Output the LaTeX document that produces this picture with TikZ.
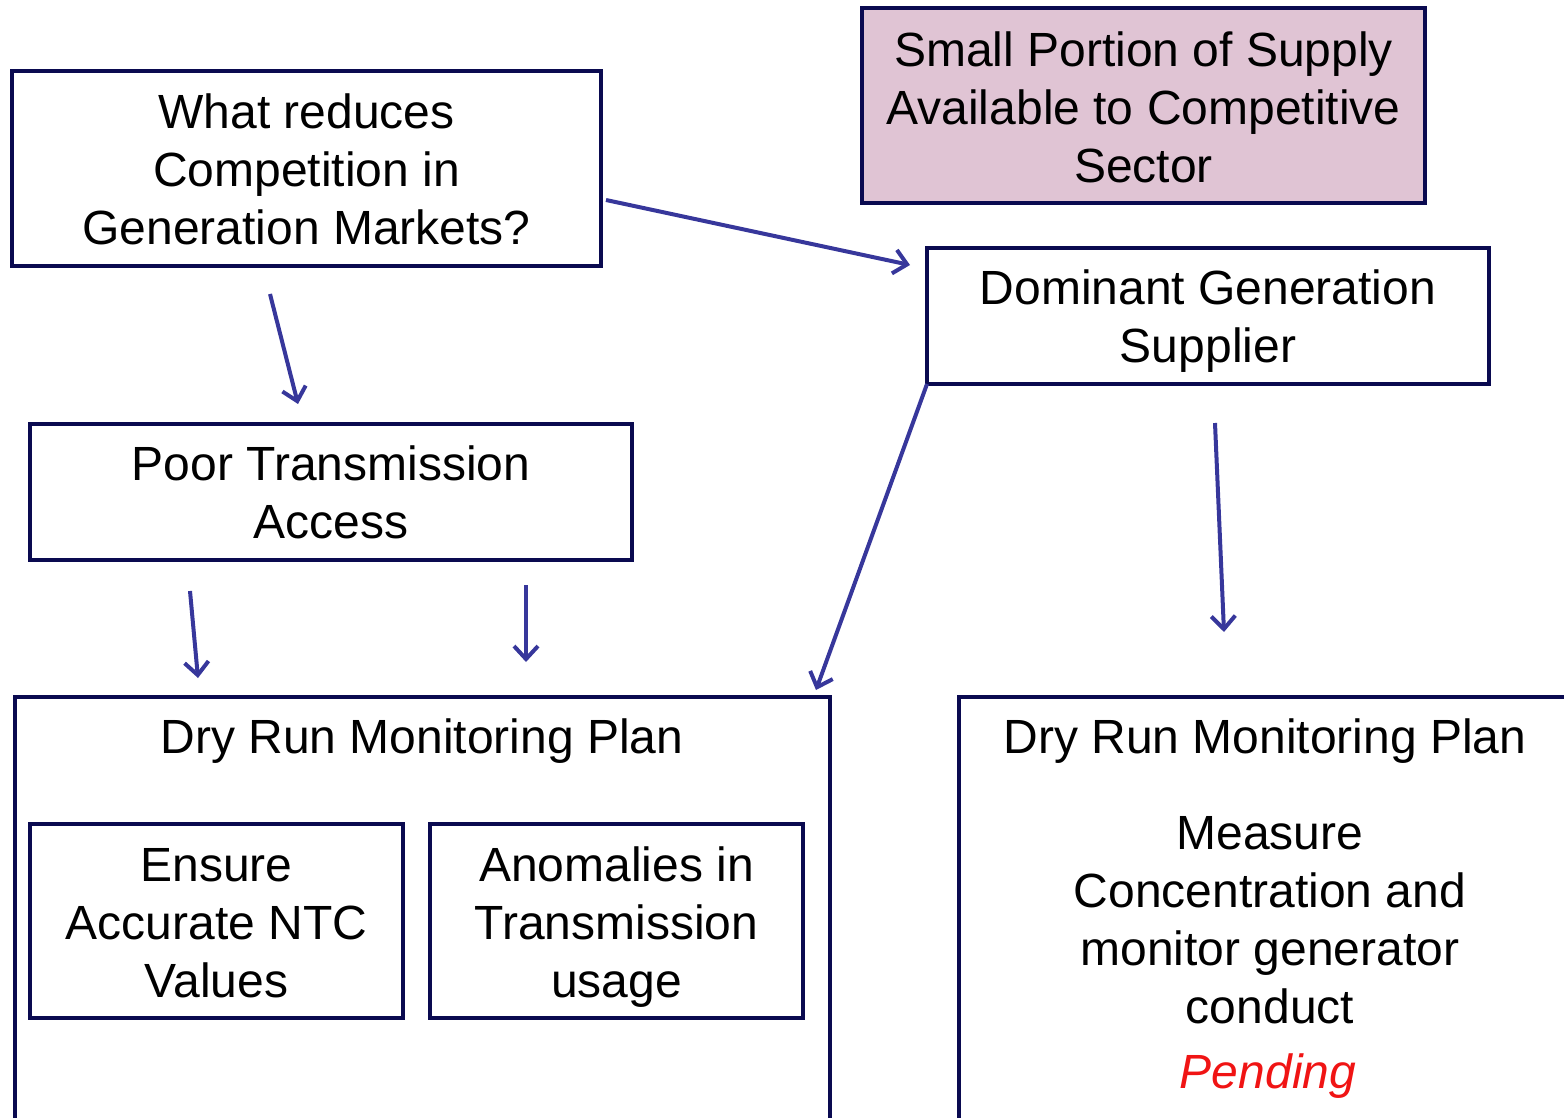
\documentclass[tikz,border=0pt]{standalone}
\usepackage{fontspec}
\setmainfont{Liberation Sans}
\usetikzlibrary{arrows.meta}
\definecolor{navy}{RGB}{10,10,80}
\definecolor{arrowc}{RGB}{55,55,155}
\definecolor{pinkfill}{RGB}{224,196,212}
\definecolor{pendred}{RGB}{240,20,20}
\tikzset{
  box/.style={draw=navy, line width=2pt, rectangle, inner sep=0pt, outer sep=0pt},
  txt/.style={inner sep=0pt, align=center, font=\fontsize{24}{29}\selectfont},
  arr/.style={draw=arrowc, line width=2pt, -{Straight Barb[length=6.5pt,width=12pt,line width=2pt]}},
}
\begin{document}
\begin{tikzpicture}[x=0.5pt,y=-0.5pt]
\useasboundingbox (0,0) rectangle (1564,1118);
\clip (0,0) rectangle (1564,1118);
\node[box, minimum width=294.5pt, minimum height=97.5pt] (A) at (306.5,168.5) {};
\node[txt] (At) at (306.5,169) {What reduces\\Competition in\\Generation Markets?};
\node[box, fill=pinkfill, minimum width=281.5pt, minimum height=97.5pt] (P) at (1143.5,105.5) {};
\node[txt] (Pt) at (1143.5,107) {Small Portion of Supply\\Available to Competitive\\Sector};
\node[box, minimum width=281pt, minimum height=68pt] (D) at (1208,316) {};
\node[txt] (Dt) at (1208,321) {Dominant Generation\\Supplier};
\node[box, minimum width=301pt, minimum height=68pt] (T) at (331,492) {};
\node[txt] (Tt) at (331,492) {Poor Transmission\\Access};
\node[box, anchor=north west, minimum width=407.5pt, minimum height=300pt] (L) at (15,697) {};
\node[txt] (LT) at (422,741) {Dry Run Monitoring Plan};
\node[box, minimum width=186.5pt, minimum height=97pt] (E) at (216.5,921) {};
\node[txt] (Et) at (216.5,923) {Ensure\\Accurate NTC\\Values};
\node[box, minimum width=186.5pt, minimum height=97pt] (N) at (616.5,921) {};
\node[txt] (Nt) at (616.5,927) {Anomalies in\\Transmission\\usage};
\node[box, anchor=north west, minimum width=400pt, minimum height=300pt] (R) at (959,697) {};
\node[txt] (RT) at (1265,741) {Dry Run Monitoring Plan};
\node[txt] (RB) at (1270,920) {Measure\\Concentration and\\monitor generator\\conduct};
\node[txt, text=pendred, font=\fontsize{24}{29}\selectfont\itshape] (PE) at (1268,1076) {Pending};
% arrows
\coordinate (a1s) at (606,200); \coordinate (a1e) at (910,265);
\coordinate (a2s) at (270,294); \coordinate (a2e) at (298,404);
\coordinate (a3s) at (190,591); \coordinate (a3e) at (198,678);
\coordinate (a4s) at (526,585); \coordinate (a4e) at (526,662);
\coordinate (a5e) at (816,690);
\coordinate (a6s) at (1215,423); \coordinate (a6e) at (1224,632);
\draw[arr] (a1s) -- (a1e);
\draw[arr] (a2s) -- (a2e);
\draw[arr] (a3s) -- (a3e);
\draw[arr] (a4s) -- (a4e);
\draw[arr] (D.south west) -- (a5e);
\draw[arr] (a6s) -- (a6e);
\end{tikzpicture}
\end{document}
